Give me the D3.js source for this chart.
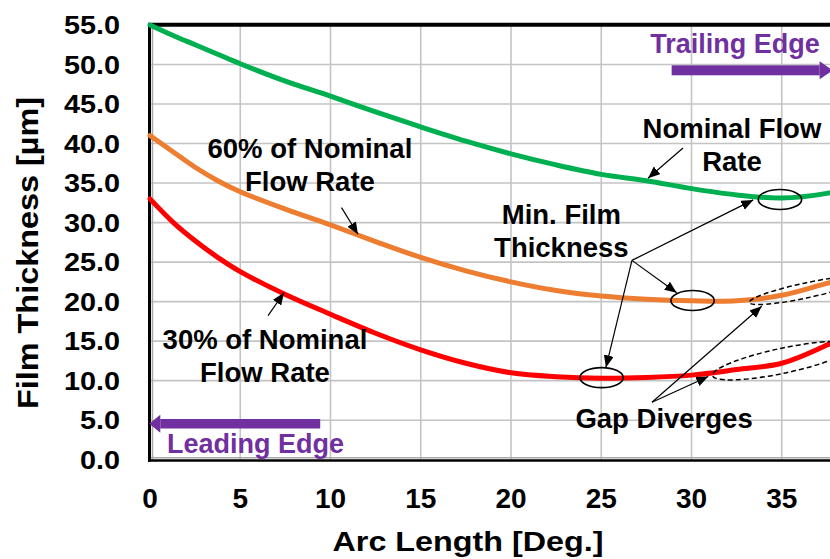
<!DOCTYPE html>
<html>
<head>
<meta charset="utf-8">
<script src="https://cdn.jsdelivr.net/npm/d3@7"></script>
<style>
  html, body { margin: 0; padding: 0; background: #fff; }
  svg { display: block; }
  text { font-family: "Liberation Sans", Arial, sans-serif; font-weight: bold; }
</style>
</head>
<body>
<svg id="chart" width="830" height="559"></svg>
<script>
// Arc length positions along the pad [deg]
const arcDeg = [0, 1.25, 2.5, 3.75, 5, 7.5, 10, 12.5, 15, 17.5, 20, 22.5, 25, 27.5, 30, 32.5, 35, 37.5, 40];
// Film thickness [µm] for each flow rate
const nominalFlow = [55.0, 53.7, 52.5, 51.3, 50.1, 47.9, 46.0, 44.0, 42.1, 40.3, 38.7, 37.3, 36.1, 35.3, 34.3, 33.5, 33.1, 33.7, 35.0];
const flow60 = [41.0, 39.0, 37.0, 35.3, 33.9, 31.7, 29.7, 27.6, 25.6, 23.9, 22.5, 21.4, 20.7, 20.3, 20.1, 20.1, 20.8, 22.3, 23.8];
const flow30 = [33.0, 30.1, 27.7, 25.6, 23.8, 20.9, 18.4, 16.0, 13.9, 12.2, 11.0, 10.5, 10.3, 10.4, 10.7, 11.4, 12.2, 14.5, 17.5];
const seriesColors = ["#00B050", "#ED7D31", "#FF0000"];

const xTicks = [0, 5, 10, 15, 20, 25, 30, 35];
const yTicks = [0, 5, 10, 15, 20, 25, 30, 35, 40, 45, 50, 55];

const svg = d3.select("#chart");
const x = d3.scaleLinear().domain([0, 40]).range([150, 872]);
const y = d3.scaleLinear().domain([0, 55]).range([459.7, 25]);

// ---- grid ----
const grid = svg.append("g").attr("stroke", "#C4C4C4").attr("stroke-width", 1.6);
grid.selectAll("line.v").data(xTicks.filter(t => t > 0).concat([40])).join("line")
  .attr("x1", d => x(d)).attr("x2", d => x(d)).attr("y1", y(55)).attr("y2", y(0));
grid.selectAll("line.h").data(yTicks.filter(t => t > 0)).join("line")
  .attr("x1", x(0)).attr("x2", x(40)).attr("y1", d => y(d)).attr("y2", d => y(d));

// ---- plot frame ----
const frame = svg.append("g");
frame.append("line").attr("x1", x(0) + 2.5).attr("x2", x(0) + 2.5).attr("y1", y(55)).attr("y2", y(0))
  .attr("stroke", "#A8A8A8").attr("stroke-width", 1.5);
frame.append("line").attr("x1", x(0)).attr("x2", x(40)).attr("y1", y(0) - 2).attr("y2", y(0) - 2)
  .attr("stroke", "#A8A8A8").attr("stroke-width", 1.5);
frame.append("line").attr("x1", x(0) - 0.5).attr("x2", x(0) - 0.5).attr("y1", y(55) - 2).attr("y2", y(0) + 2)
  .attr("stroke", "#000").attr("stroke-width", 3);
frame.append("line").attr("x1", x(0) - 2).attr("x2", x(40)).attr("y1", y(0) + 0.8).attr("y2", y(0) + 0.8)
  .attr("stroke", "#000").attr("stroke-width", 2.5);
frame.append("line").attr("x1", x(0) - 2).attr("x2", x(40)).attr("y1", y(55) - 0.3).attr("y2", y(55) - 0.3)
  .attr("stroke", "#000").attr("stroke-width", 4);

// ---- axes labels ----
const fmt = d3.format(".1f");
svg.append("g").selectAll("text").data(yTicks).join("text")
  .attr("transform", d => `translate(120,${y(d) + 9}) scale(1.13,1)`)
  .attr("text-anchor", "end").attr("font-size", 25.5).attr("fill", "#000")
  .text(d => fmt(d));
svg.append("g").selectAll("text").data(xTicks).join("text")
  .attr("x", d => x(d)).attr("y", 508).attr("text-anchor", "middle")
  .attr("font-size", 28).attr("fill", "#000").text(d => d);

svg.append("text").attr("x", 468).attr("y", 551).attr("text-anchor", "middle")
  .attr("font-size", 28).attr("textLength", 271).attr("lengthAdjust", "spacingAndGlyphs")
  .text("Arc Length [Deg.]");
svg.append("text").attr("transform", "translate(38,253) rotate(-90)").attr("text-anchor", "middle")
  .attr("font-size", 29).attr("textLength", 312).attr("lengthAdjust", "spacingAndGlyphs")
  .text("Film Thickness [µm]");

// ---- curves ----
const series = [nominalFlow, flow60, flow30];
const line = d3.line().x((d, i) => x(arcDeg[i])).y(d => y(d)).curve(d3.curveCatmullRom.alpha(0.5));
svg.append("g").selectAll("path").data(series).join("path")
  .attr("d", d => line(d)).attr("fill", "none")
  .attr("stroke", (d, i) => seriesColors[i]).attr("stroke-width", 5)
  .attr("stroke-linejoin", "round").attr("stroke-linecap", "round");

// ---- arrowhead markers ----
const defs = svg.append("defs");
defs.append("marker").attr("id", "head").attr("markerUnits", "userSpaceOnUse")
  .attr("markerWidth", 14).attr("markerHeight", 12).attr("refX", 12).attr("refY", 5)
  .attr("orient", "auto")
  .append("path").attr("d", "M0,0 L12,5 L0,10 Z").attr("fill", "#000");

// ---- annotation arrows (data coordinates) ----
const arrows = [
  [[10.61, 31.90], [11.52, 28.52]],
  [[6.54, 18.24], [7.42, 21.12]],
  [[29.53, 39.43], [27.59, 35.62]],
  [[26.70, 25.22], [33.42, 32.87]],
  [[26.70, 25.22], [29.18, 21.12]],
  [[26.70, 25.22], [25.26, 11.68]],
  [[27.81, 7.26], [33.89, 19.42]],
  [[27.81, 7.26], [30.93, 10.53]]
];
svg.append("g").selectAll("line").data(arrows).join("line")
  .attr("x1", d => x(d[0][0])).attr("y1", d => y(d[0][1]))
  .attr("x2", d => x(d[1][0])).attr("y2", d => y(d[1][1]))
  .attr("stroke", "#000").attr("stroke-width", 1.2).attr("marker-end", "url(#head)");

// ---- minimum film thickness rings ----
const minRings = [[34.90, 32.92], [30.06, 20.14], [25.02, 10.39]];
svg.append("g").selectAll("ellipse").data(minRings).join("ellipse")
  .attr("cx", d => x(d[0])).attr("cy", d => y(d[1])).attr("rx", 21.7).attr("ry", 10)
  .attr("fill", "none").attr("stroke", "#000").attr("stroke-width", 1.6);

// ---- gap divergence rings (dashed) ----
const gapRings = [
  { c: [36.34, 21.41], rx: 58, ry: 7.5, rot: -12 },
  { c: [35.07, 12.53], rx: 72, ry: 12.5, rot: -12 }
];
svg.append("g").selectAll("ellipse").data(gapRings).join("ellipse")
  .attr("transform", d => `translate(${x(d.c[0])},${y(d.c[1])}) rotate(${d.rot})`)
  .attr("rx", d => d.rx).attr("ry", d => d.ry)
  .attr("fill", "none").attr("stroke", "#000").attr("stroke-width", 1.5)
  .attr("stroke-dasharray", "5,3");

// ---- leading / trailing edge arrows ----
const purple = "#7030A0";
const edge = svg.append("g").attr("fill", purple);
// trailing edge: pointing right
edge.append("rect").attr("x", x(28.9)).attr("y", y(51.42) + 12).attr("width", x(37.1) - x(28.9)).attr("height", 10);
edge.append("path").attr("d", () => {
  const bx = x(37.1), cy = y(51.42) + 17;
  return `M${bx},${cy - 9} L${bx + 13},${cy} L${bx},${cy + 9} Z`;
});
// leading edge: pointing left
edge.append("rect").attr("x", x(0.57)).attr("y", y(0.91) - 33.5).attr("width", x(9.43) - x(0.57)).attr("height", 9.5);
edge.append("path").attr("d", () => {
  const bx = x(0.57), cy = y(0.91) - 28.7;
  return `M${bx},${cy - 9} L${bx - 11},${cy} L${bx},${cy + 9} Z`;
});

// ---- text annotations ----
const notes = [
  { at: [8.86, 38.2], lines: ["60% of Nominal", "Flow Rate"] },
  { at: [6.37, 13.98], lines: ["30% of Nominal", "Flow Rate"] },
  { at: [32.24, 40.7], lines: ["Nominal Flow", "Rate"] },
  { at: [22.79, 29.78], lines: ["Min. Film", "Thickness"] },
  { at: [28.48, 3.98], lines: ["Gap Diverges"] }
];
const noteG = svg.append("g").attr("fill", "#000").attr("font-size", 27.5).attr("text-anchor", "middle");
notes.forEach(n => {
  n.lines.forEach((t, k) => {
    noteG.append("text").attr("x", x(n.at[0])).attr("y", y(n.at[1]) + k * 33).text(t);
  });
});
svg.append("text").attr("x", x(32.41)).attr("y", y(51.42)).attr("text-anchor", "middle")
  .attr("font-size", 27).attr("fill", purple).text("Trailing Edge");
svg.append("text").attr("x", x(0.94)).attr("y", y(0.91)).attr("text-anchor", "start")
  .attr("font-size", 27).attr("fill", purple).text("Leading Edge");
</script>
</body>
</html>
